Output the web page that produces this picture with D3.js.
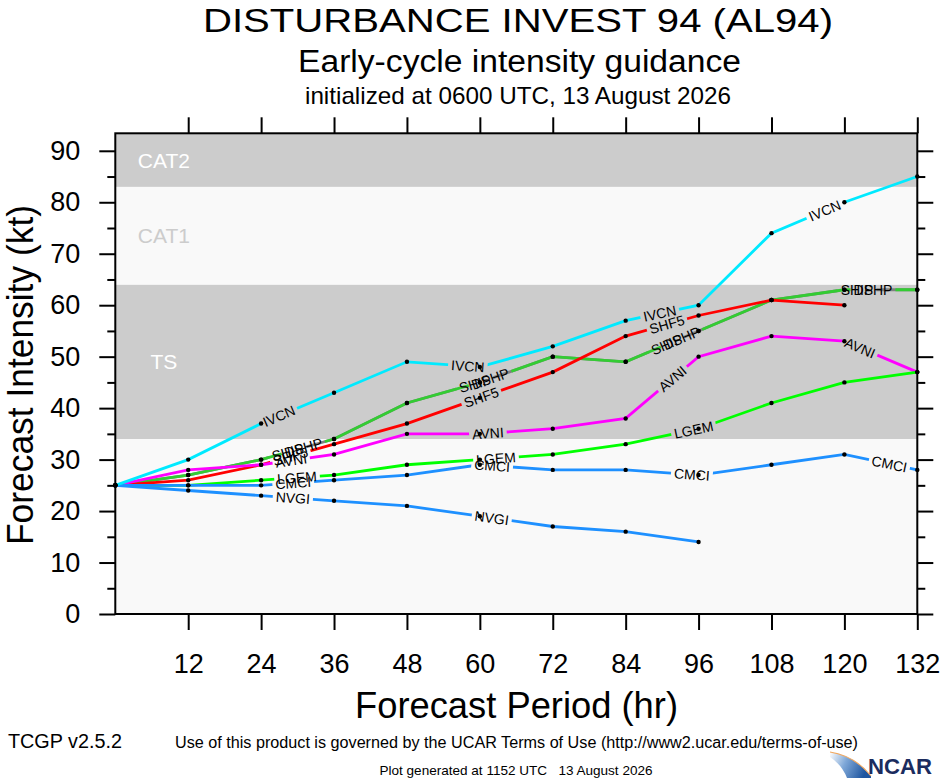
<!DOCTYPE html>
<html>
<head>
<meta charset="utf-8">
<script src="https://cdn.jsdelivr.net/npm/d3@7"></script>
<style>
  body { margin: 0; background: #fff; }
  text { font-family: "Liberation Sans", Arial, Helvetica, sans-serif; }
</style>
</head>
<body>
<svg id="chart" width="940" height="780"></svg>
<script>
// forecast hours and model intensities (kt)
const hours = [0, 12, 24, 36, 48, 60, 72, 84, 96, 108, 120, 132];
const xTicks = [12, 24, 36, 48, 60, 72, 84, 96, 108, 120, 132];
const yTicks = [0, 10, 20, 30, 40, 50, 60, 70, 80, 90];
const yMinor = [5, 15, 25, 35, 45, 55, 65, 75, 85];

const ship = [25, 27, 30, 34, 41, 45, 50, 49, 55, 61, 63, 63];
const dshp = [25, 27, 30, 34, 41, 45, 50, 49, 55, 61, 63, 63];
const shf5 = [25, 26, 29, 33, 37, 42, 47, 54, 58, 61, 60];
const avni = [25, 28, 29, 31, 35, 35, 36, 38, 50, 54, 53, 47];
const lgem = [25, 25, 26, 27, 29, 30, 31, 33, 36, 41, 45, 47];
const cmci = [25, 25, 25, 26, 27, 29, 28, 28, 27, 29, 31, 28];
const nvgi = [25, 24, 23, 22, 21, 19, 17, 16, 14];
const ivcn = [25, 30, 37, 43, 49, 48, 52, 57, 60, 74, 80, 85];

// intensity bands (kt)
const bandNames = ["TS", "CAT1", "CAT2"];
const bandLow = [34, 64, 83];
const bandHigh = [64, 83, 93.4];

const series = [
	{name: "SHIP", values: ship, color: "#808080", phase: 176},
	{name: "DSHP", values: dshp, color: "#33cc33", phase: 192},
	{name: "SHF5", values: shf5, color: "#ff0000"},
	{name: "AVNI", values: avni, color: "#ff00ff"},
	{name: "LGEM", values: lgem, color: "#00ff00", phase: 182, maxLabels: 3},
	{name: "CMCI", values: cmci, color: "#1e90ff"},
	{name: "NVGI", values: nvgi, color: "#1e90ff"},
	{name: "IVCN", values: ivcn, color: "#00eaff"}
];

const svg = d3.select("#chart");
const plotLeft = 115.3, plotRight = 917.3, plotTop = 133.3, plotBottom = 614;

let x = d3.scaleLinear().domain([0, 132]).range([plotLeft, plotRight]);
let y = d3.scaleLinear().domain([0, 93.4]).range([plotBottom, plotTop]);

//Background and bands
svg.append("rect").attr("width", 940).attr("height", 780).attr("fill", "#fff");
svg.append("rect")
	.attr("x", plotLeft).attr("y", plotTop)
	.attr("width", plotRight - plotLeft).attr("height", plotBottom - plotTop)
	.attr("fill", "#f9f9f9");
bandNames.forEach((b, i) => {
	svg.append("rect")
		.attr("x", plotLeft).attr("y", y(bandHigh[i]))
		.attr("width", plotRight - plotLeft).attr("height", y(bandLow[i]) - y(bandHigh[i]))
		.attr("fill", b == "CAT1" ? "#f9f9f9" : "#cccccc");
	svg.append("text")
		.attr("x", x(8)).attr("y", y((bandLow[i] + bandHigh[i]) / 2))
		.attr("dy", "0.36em")
		.attr("text-anchor", "middle")
		.attr("font-size", 21)
		.attr("fill", b == "CAT1" ? "#cccccc" : "#ffffff")
		.text(b);
});

//Line label helper: measure text width
function textWidth(str, size) {
	let t = svg.append("text").attr("font-size", size).text(str);
	let w = t.node().getComputedTextLength();
	t.remove();
	return w;
}

let defs = svg.append("defs");
let lineLayer = svg.append("g");
let dotLayer = svg.append("g");
let labelLayer = svg.append("g");

const labelSize = 14;
const spacing = 200;

series.forEach(s => {
	let pts = s.values.map((v, i) => [x(hours[i]), y(v)]);
	let cum = [0];
	for (let i = 1; i < pts.length; i++) {
		cum.push(cum[i - 1] + Math.hypot(pts[i][0] - pts[i - 1][0], pts[i][1] - pts[i - 1][1]));
	}
	let total = cum[cum.length - 1];
	let w = textWidth(s.name, labelSize);
	let phase = s.phase || 178;
	let labels = [];
	for (let a = phase; a + w / 2 <= total; a += spacing) {
		if (s.maxLabels && labels.length >= s.maxLabels) break;
		let i = 0;
		while (cum[i + 1] < a) i++;
		let t = (a - cum[i]) / (cum[i + 1] - cum[i]);
		let p0 = pts[i], p1 = pts[i + 1];
		labels.push({
			x: p0[0] + t * (p1[0] - p0[0]),
			y: p0[1] + t * (p1[1] - p0[1]),
			angle: Math.atan2(p1[1] - p0[1], p1[0] - p0[0]) * 180 / Math.PI
		});
	}

	//mask that cuts the line where a label sits
	let mask = defs.append("mask")
		.attr("id", "gap-" + s.name)
		.attr("maskUnits", "userSpaceOnUse")
		.attr("x", 0).attr("y", 0).attr("width", 940).attr("height", 780);
	mask.append("rect").attr("width", 940).attr("height", 780).attr("fill", "#fff");
	labels.forEach(l => {
		mask.append("rect")
			.attr("x", -w / 2 - 3).attr("y", -7)
			.attr("width", w + 6).attr("height", 14)
			.attr("transform", "translate(" + l.x + "," + l.y + ") rotate(" + l.angle + ")")
			.attr("fill", "#000");
	});

	lineLayer.append("path")
		.attr("d", d3.line()(pts))
		.attr("fill", "none")
		.attr("stroke", s.color)
		.attr("stroke-width", 2.8)
		.attr("mask", "url(#gap-" + s.name + ")");

	dotLayer.selectAll(null)
		.data(pts)
		.enter().append("circle")
		.attr("cx", d => d[0]).attr("cy", d => d[1])
		.attr("r", 2.2)
		.attr("fill", "#000");

	labels.forEach(l => {
		labelLayer.append("text")
			.attr("transform", "translate(" + l.x + "," + l.y + ") rotate(" + l.angle + ")")
			.attr("text-anchor", "middle")
			.attr("dy", "0.36em")
			.attr("font-size", labelSize)
			.attr("fill", "#000")
			.text(s.name);
	});
});

//Frame
svg.append("rect")
	.attr("x", plotLeft).attr("y", plotTop)
	.attr("width", plotRight - plotLeft).attr("height", plotBottom - plotTop)
	.attr("fill", "none").attr("stroke", "#000").attr("stroke-width", 2);

//Axes
function styleAxis(g) {
	g.select(".domain").remove();
	g.selectAll(".tick line").attr("stroke-width", 2);
	g.selectAll("text").attr("font-size", 27).attr("fill", "#000")
		.attr("font-family", "Liberation Sans, Arial, sans-serif");
}

svg.append("g")
	.attr("transform", "translate(0," + plotBottom + ")")
	.call(d3.axisBottom(x).tickValues(xTicks).tickSize(16).tickPadding(24).tickFormat(d3.format("d")))
	.call(styleAxis);
svg.append("g")
	.attr("transform", "translate(0," + plotTop + ")")
	.call(d3.axisTop(x).tickValues(xTicks).tickSize(16).tickFormat(""))
	.call(styleAxis);
svg.append("g")
	.attr("transform", "translate(" + plotLeft + ",0)")
	.call(d3.axisLeft(y).tickValues(yTicks).tickSize(16).tickPadding(19).tickFormat(d3.format("d")))
	.call(styleAxis);
svg.append("g")
	.attr("transform", "translate(" + plotLeft + ",0)")
	.call(d3.axisLeft(y).tickValues(yMinor).tickSize(8).tickFormat(""))
	.call(styleAxis);
svg.append("g")
	.attr("transform", "translate(" + plotRight + ",0)")
	.call(d3.axisRight(y).tickValues(yTicks).tickSize(16).tickFormat(""))
	.call(styleAxis);
svg.append("g")
	.attr("transform", "translate(" + plotRight + ",0)")
	.call(d3.axisRight(y).tickValues(yMinor).tickSize(8).tickFormat(""))
	.call(styleAxis);

//Titles
function addText(str, px, py, size, len) {
	let t = svg.append("text")
		.attr("x", px).attr("y", py)
		.attr("text-anchor", "middle")
		.attr("font-size", size)
		.attr("fill", "#000")
		.attr("xml:space", "preserve")
		.text(str);
	if (len) t.attr("textLength", len).attr("lengthAdjust", "spacingAndGlyphs");
	return t;
}

addText("DISTURBANCE INVEST 94 (AL94)", 518, 32, 34, 630);
addText("Early-cycle intensity guidance", 519.5, 72, 31, 443);
addText("initialized at 0600 UTC, 13 August 2026", 518, 104, 24, 426);
addText("Forecast Period (hr)", 516.5, 718, 37, 323);
addText("Forecast Intensity (kt)", 0, 0, 37, 340)
	.attr("transform", "translate(33,375) rotate(-90)");
addText("Use of this product is governed by the UCAR Terms of Use (http://www2.ucar.edu/terms-of-use)", 516.5, 748, 16, 683);
addText("Plot generated at 1152 UTC   13 August 2026", 516, 775, 13, 273);
addText("TCGP v2.5.2", 65, 748, 20, 114);

//NCAR logo
let grad = defs.append("linearGradient").attr("id", "swoosh")
	.attr("x1", "0").attr("y1", "0").attr("x2", "1").attr("y2", "0.3");
grad.append("stop").attr("offset", "0").attr("stop-color", "#ffffff");
grad.append("stop").attr("offset", "0.45").attr("stop-color", "#7fa8d8");
grad.append("stop").attr("offset", "1").attr("stop-color", "#1f56a0");
svg.append("path")
	.attr("d", "M830,752 Q855,756 871,776 L871,778 L847,778 Q842,765 830,757 Z")
	.attr("fill", "url(#swoosh)");
svg.append("path")
	.attr("d", "M830,752 Q855,756 871,776")
	.attr("fill", "none").attr("stroke", "#f0a860").attr("stroke-width", 1.2);
svg.append("text")
	.attr("x", 868).attr("y", 774)
	.attr("font-size", 22).attr("font-weight", "bold")
	.attr("fill", "#1b2c5e")
	.attr("textLength", 64).attr("lengthAdjust", "spacingAndGlyphs")
	.text("NCAR");
</script>
</body>
</html>
